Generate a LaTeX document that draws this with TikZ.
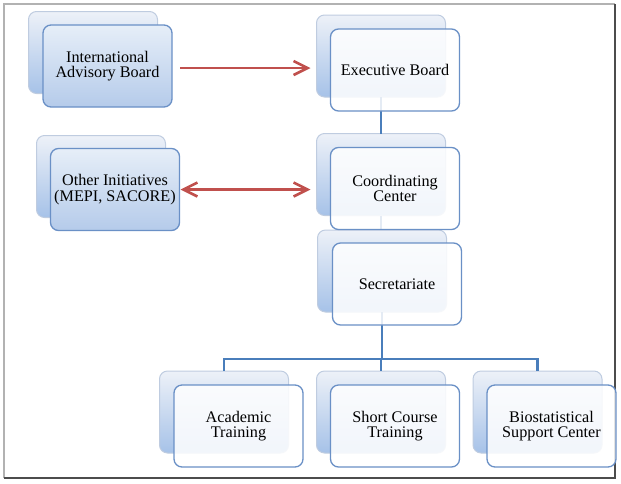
\documentclass[tikz,border=0pt]{standalone}
\usepackage{fontspec}
\setmainfont{Liberation Serif}
\usetikzlibrary{arrows.meta,calc}

\definecolor{frontline}{HTML}{6A90C6}
\definecolor{backline}{HTML}{BFCCE0}
\definecolor{backtop}{HTML}{EDF1F8}
\definecolor{backbot}{HTML}{A6C2E8}
\definecolor{fronttop}{HTML}{E6EEF8}
\definecolor{frontbot}{HTML}{B5CBEA}
\definecolor{linkblue}{HTML}{4A7EBB}
\definecolor{arrowred}{HTML}{C0504D}

\begin{document}
\begin{tikzpicture}[x=1pt,y=-1pt,inner sep=0pt,outer sep=0pt,
backbox/.style={draw=backline,line width=1pt,rounded corners=8pt,minimum width=129pt,minimum height=82pt,top color=backtop,bottom color=backbot},
frontblue/.style={draw=frontline,line width=1.3pt,rounded corners=8pt,minimum width=129pt,minimum height=82pt,top color=fronttop,bottom color=frontbot,align=center,font=\fontsize{16.2}{15.5}\selectfont},
frontwhite/.style={draw=frontline,line width=1.3pt,rounded corners=8pt,minimum width=129pt,minimum height=82pt,fill=white,fill opacity=0.85,text opacity=1,align=center,font=\fontsize{16.2}{15.5}\selectfont},
link/.style={draw=linkblue,line width=2.8pt},
redarrow/.style={draw=arrowred,line width=2.6pt,-{Straight Barb[length=14pt,width=14pt]}}]
\useasboundingbox (0,0) rectangle (621,483);
% frame
\draw[draw=black!30,line width=1.2pt] (4,478) -- (4,4) -- (615,4);
\draw[draw=black!70,line width=2.4pt] (615,4) -- (615,478) -- (4,478);
% back boxes
\node[backbox] (iabb) at (93,52.5) {};
\node[backbox] (oib) at (101,176.5) {};
\node[backbox] (execb) at (381,56) {};
\node[backbox] (coordb) at (381,174.5) {};
\node[backbox] (secb) at (382,271) {};
\node[backbox] (acadb) at (224,412) {};
\node[backbox] (shortb) at (381,412) {};
\node[backbox] (biob) at (537.5,412) {};
% tree lines
\draw[link] (execb.south) -- (coordb.north);
\draw[link] (coordb.south) -- (coordb.south |- secb.north);
\draw[link] (secb.south) -- ++(0,47) coordinate (bus);
\draw[link] (bus) -| (acadb.north);
\draw[link] (bus) -| (shortb.north);
\draw[link] (bus) -| (biob.north);
% front boxes
\node[frontblue] (iab) at ([xshift=14.5pt,yshift=-13.5pt]iabb.center) {International\\Advisory Board};
\node[frontblue] (oi) at ([xshift=14pt,yshift=-13pt]oib.center) {Other Initiatives\\(MEPI, SACORE)};
\node[frontwhite] (exec) at ([xshift=14pt,yshift=-14pt]execb.center) {Executive Board};
\node[frontwhite] (coord) at ([xshift=14pt,yshift=-14pt]coordb.center) {Coordinating\\Center};
\node[frontwhite] (sec) at ([xshift=15pt,yshift=-13pt]secb.center) {Secretariate};
\node[frontwhite] (acad) at ([xshift=14.5pt,yshift=-14pt]acadb.center) {Academic\\Training};
\node[frontwhite] (short) at ([xshift=14pt,yshift=-14pt]shortb.center) {Short Course\\Training};
\node[frontwhite] (bio) at ([xshift=14pt,yshift=-14pt]biob.center) {Biostatistical\\Support Center};
% red arrows
\draw[redarrow,shorten <=8pt,shorten >=6pt] ([yshift=-2pt]iab.east) -- ([yshift=-2pt]iab.east -| execb.west);
\draw[redarrow,{Straight Barb[length=14pt,width=14pt]}-{Straight Barb[length=14pt,width=14pt]},shorten <=1pt,shorten >=6pt] (oi.east) -- (oi.east -| coordb.west);
\end{tikzpicture}
\end{document}
